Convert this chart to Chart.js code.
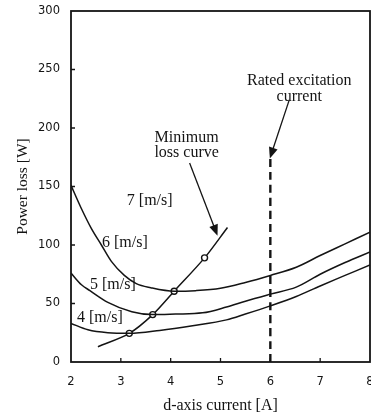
<!DOCTYPE html>
<html>
<head>
<meta charset="utf-8">
<script src="https://cdn.jsdelivr.net/npm/chart.js@4/dist/chart.umd.min.js"></script>
<style>
  html, body { margin: 0; padding: 0; background: #fff; }
  #loss-chart { display: block; }
</style>
</head>
<body>
<canvas id="loss-chart" width="371" height="417"></canvas>
<script>
// Dati: corrente asse d [A] e perdita [W] per ogni velocita' del vento
const curr6 = [2, 2.21, 2.41, 2.61, 2.81, 3.07, 3.31, 3.6, 4.07, 4.5, 5, 5.5, 6, 6.52, 7, 7.5, 8];
const loss6 = [151, 131, 114, 100, 86, 74, 67, 63.5, 60.5, 61, 63, 68, 74, 81, 91, 101, 111];

const curr5 = [2, 2.21, 2.38, 2.74, 3.22, 3.64, 4.1, 4.64, 5.12, 5.5, 6, 6.52, 7, 7.5, 8];
const loss5 = [76, 66, 61, 51, 43, 40.5, 41, 42, 47, 52, 58, 64, 75, 85, 94];

const curr4 = [2, 2.34, 2.74, 3.17, 3.78, 4.44, 5.12, 5.5, 6, 6.52, 7, 7.5, 8];
const loss4 = [33, 27.5, 25, 24.5, 27, 31, 36, 41, 48, 56, 65, 74, 83];

// curva di minima perdita (i cerchi sono i minimi a 4, 5, 6, 7 m/s)
const currMin = [2.54, 3.17, 3.64, 4.07, 4.68, 5.14];
const lossMin = [13, 24.5, 40.5, 60.5, 89, 115];
const markMin = [false, true, true, true, true, false];

// corrente di eccitazione nominale
const ratedCurr = [6, 6];
const ratedLoss = [0, 177];

const xTicks = [2, 3, 4, 5, 6, 7, 8];
const yTicks = [0, 50, 100, 150, 200, 250, 300];

(function () {
  const INK = '#141414';
  const SERIF = '"Liberation Serif", "DejaVu Serif", serif';

  function pts(xs, ys) {
    return xs.map((x, i) => ({ x: x, y: ys[i] }));
  }

  function curve(xs, ys) {
    return {
      data: pts(xs, ys),
      borderColor: INK,
      borderWidth: 1.5,
      pointRadius: 0,
      cubicInterpolationMode: 'monotone',
      fill: false
    };
  }

  /** Scritte e frecce disegnate in coordinate dati tramite le scale */
  const notes = [
    { text: '7 [m/s]', x: 3.58, y: 138 },
    { text: '6 [m/s]', x: 3.08, y: 102 },
    { text: '5 [m/s]', x: 2.84, y: 66 },
    { text: '4 [m/s]', x: 2.58, y: 38 },
    { text: 'Minimum', x: 4.32, y: 192 },
    { text: 'loss curve', x: 4.32, y: 179 },
    { text: 'Rated excitation', x: 6.58, y: 240 },
    { text: 'current', x: 6.58, y: 227 }
  ];
  const arrows = [
    { from: [4.38, 170], to: [4.94, 108] },
    { from: [6.38, 224], to: [5.99, 174] }
  ];

  const decor = {
    id: 'decor',
    afterDatasetsDraw(chart) {
      const { ctx, chartArea: a, scales: { x, y } } = chart;
      ctx.save();
      ctx.strokeStyle = INK;
      ctx.fillStyle = INK;

      // cornice completa
      ctx.lineWidth = 1.8;
      ctx.strokeRect(a.left, a.top, a.right - a.left, a.bottom - a.top);

      // tacche rivolte verso l'interno
      ctx.lineWidth = 1.3;
      ctx.beginPath();
      xTicks.slice(1, -1).forEach(v => {
        const px = x.getPixelForValue(v);
        ctx.moveTo(px, a.bottom);
        ctx.lineTo(px, a.bottom - 4);
      });
      yTicks.slice(1, -1).forEach(v => {
        const py = y.getPixelForValue(v);
        ctx.moveTo(a.left, py);
        ctx.lineTo(a.left + 4, py);
      });
      ctx.stroke();

      // frecce
      ctx.lineWidth = 1.3;
      arrows.forEach(ar => {
        const x0 = x.getPixelForValue(ar.from[0]), y0 = y.getPixelForValue(ar.from[1]);
        const x1 = x.getPixelForValue(ar.to[0]), y1 = y.getPixelForValue(ar.to[1]);
        const ang = Math.atan2(y1 - y0, x1 - x0);
        ctx.beginPath();
        ctx.moveTo(x0, y0);
        ctx.lineTo(x1 - 6 * Math.cos(ang), y1 - 6 * Math.sin(ang));
        ctx.stroke();
        ctx.beginPath();
        ctx.moveTo(x1, y1);
        ctx.lineTo(x1 - 11 * Math.cos(ang) + 4.5 * Math.sin(ang), y1 - 11 * Math.sin(ang) - 4.5 * Math.cos(ang));
        ctx.lineTo(x1 - 11 * Math.cos(ang) - 4.5 * Math.sin(ang), y1 - 11 * Math.sin(ang) + 4.5 * Math.cos(ang));
        ctx.closePath();
        ctx.fill();
      });

      // etichette
      ctx.font = '16px ' + SERIF;
      ctx.textAlign = 'center';
      ctx.textBaseline = 'middle';
      notes.forEach(n => {
        ctx.fillText(n.text, x.getPixelForValue(n.x), y.getPixelForValue(n.y));
      });
      ctx.restore();
    }
  };

  function init() {
    const canvas = document.getElementById('loss-chart');
    if (!canvas || typeof Chart === 'undefined') return;

    const minDs = curve(currMin, lossMin);
    minDs.cubicInterpolationMode = 'default';
    minDs.tension = 0.3;
    minDs.pointRadius = markMin.map(m => (m ? 3 : 0));
    minDs.pointBackgroundColor = '#fff';
    minDs.pointBorderColor = INK;
    minDs.pointBorderWidth = 1.4;

    const ratedDs = curve(ratedCurr, ratedLoss);
    ratedDs.borderWidth = 2.4;
    ratedDs.borderDash = [8, 5];

    new Chart(canvas, {
      type: 'line',
      data: { datasets: [curve(curr6, loss6), curve(curr5, loss5), curve(curr4, loss4), minDs, ratedDs] },
      plugins: [decor],
      options: {
        responsive: false,
        animation: false,
        events: [],
        layout: { padding: { top: 11, right: 1, left: 0, bottom: 0 } },
        plugins: { legend: { display: false }, tooltip: { enabled: false } },
        scales: {
          x: {
            type: 'linear', min: 2, max: 8,
            // altezza fissa e niente margine laterale per le etichette estreme
            afterFit(s) { s.height = 55; s.paddingLeft = 0; s.paddingRight = 0; },
            afterBuildTicks(s) { s.ticks = xTicks.map(v => ({ value: v })); },
            grid: { display: false, drawTicks: false },
            border: { display: false },
            ticks: { color: INK, padding: 13, font: { family: '"DejaVu Sans", sans-serif', size: 11.5 } },
            title: { display: true, text: 'd-axis current [A]', color: INK, padding: { top: 0, bottom: 2 }, font: { family: SERIF, size: 16 } }
          },
          y: {
            type: 'linear', min: 0, max: 300,
            afterFit(s) { s.width = 71; s.paddingTop = 0; s.paddingBottom = 0; },
            afterBuildTicks(s) { s.ticks = yTicks.map(v => ({ value: v })); },
            grid: { display: false, drawTicks: false },
            border: { display: false },
            ticks: { color: INK, padding: 11, font: { family: '"DejaVu Sans", sans-serif', size: 11.5 } },
            title: { display: true, text: 'Power loss [W]', color: INK, padding: { top: 14, bottom: 0 }, font: { family: SERIF, size: 15.5 } }
          }
        }
      }
    });
  }

  if (document.readyState === 'loading') {
    document.addEventListener('DOMContentLoaded', init);
  } else {
    init();
  }
})();
</script>
</body>
</html>
